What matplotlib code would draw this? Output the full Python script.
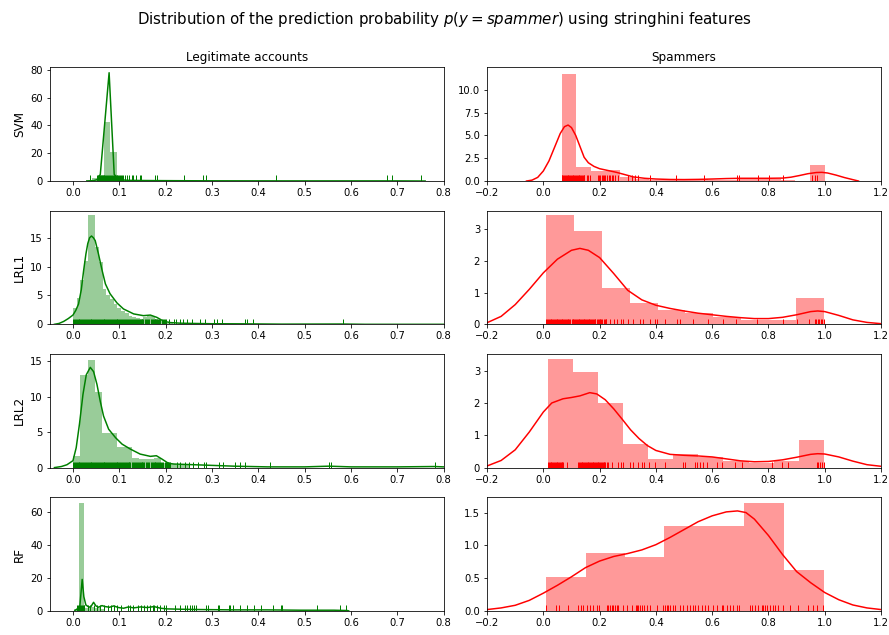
import numpy as np
import matplotlib
matplotlib.use("Agg")
import matplotlib.pyplot as plt

models = ["SVM", "LRL1", "LRL2", "RF"]
col_titles = ["Legitimate accounts", "Spammers"]
suptitle = "Distribution of the prediction probability $p(y = spammer)$ using stringhini features"

# ---- legitimate accounts (green) ----
svm_legit_edges = [0.029, 0.042, 0.055, 0.068, 0.081, 0.094, 0.107, 0.120, 0.133, 0.146]
svm_legit_hist = [0.5, 2.5, 4.5, 42.4, 21.0, 1.8, 0.8, 0.5, 0.3]
svm_legit_kde_x = [0.030, 0.045, 0.052, 0.059, 0.078, 0.089, 0.097, 0.105, 0.120, 0.140, 0.180,
                   0.250, 0.300, 0.450, 0.700, 0.760]
svm_legit_kde_y = [0.0, 0.3, 1.0, 4.8, 78.0, 4.8, 1.5, 0.8, 0.5, 0.4, 0.3, 0.2, 0.15, 0.1, 0.1, 0.0]
svm_legit_rug = [0.036, 0.052, 0.054, 0.056, 0.058, 0.060, 0.062, 0.064, 0.066, 0.068, 0.070,
                 0.072, 0.074, 0.076, 0.078, 0.080, 0.082, 0.084, 0.086, 0.088, 0.090, 0.092,
                 0.094, 0.096, 0.098, 0.100, 0.102, 0.104, 0.106, 0.109, 0.113, 0.117, 0.120,
                 0.127, 0.130, 0.137, 0.144, 0.147, 0.176, 0.181, 0.239, 0.280, 0.286, 0.439,
                 0.678, 0.689, 0.752]

lrl1_legit_edges = [0.000, 0.008, 0.016, 0.024, 0.032, 0.040, 0.048, 0.056, 0.064, 0.072, 0.080,
                    0.088, 0.096, 0.104, 0.112, 0.120, 0.128, 0.136, 0.144, 0.152, 0.160, 0.168,
                    0.176, 0.184, 0.192, 0.200, 0.208, 0.216]
lrl1_legit_hist = [2.8, 4.5, 7.7, 11.0, 18.9, 18.9, 13.4, 10.8, 6.2, 5.0, 4.4, 3.5, 2.8, 2.3,
                   2.0, 1.5, 1.3, 1.1, 1.0, 1.2, 1.5, 1.5, 1.0, 0.6, 0.4, 0.3, 0.2]
lrl1_legit_kde_x = [-0.040, -0.030, -0.020, -0.010, 0.000, 0.006, 0.012, 0.018, 0.023, 0.028,
                    0.032, 0.036, 0.040, 0.044, 0.048, 0.055, 0.063, 0.070, 0.080, 0.095, 0.109,
                    0.131, 0.152, 0.167, 0.181, 0.196, 0.210, 0.230, 0.260, 0.300, 0.370, 0.450,
                    0.580, 0.630, 0.800]
lrl1_legit_kde_y = [0.0, 0.15, 0.5, 1.0, 1.6, 2.4, 3.5, 6.0, 9.3, 12.2, 14.0, 15.0, 15.3, 15.0,
                    14.5, 12.2, 9.3, 7.0, 5.3, 3.7, 2.66, 1.8, 1.5, 1.6, 1.2, 0.52, 0.3, 0.2,
                    0.15, 0.1, 0.08, 0.03, 0.05, 0.0, 0.0]
lrl1_legit_rug = [0.000, 0.002, 0.004, 0.006, 0.008, 0.010, 0.012, 0.014, 0.016, 0.018,
                  0.020, 0.022, 0.024, 0.026, 0.028, 0.030, 0.032, 0.034, 0.036, 0.038,
                  0.040, 0.042, 0.044, 0.046, 0.048, 0.050, 0.052, 0.054, 0.056, 0.058,
                  0.060, 0.062, 0.064, 0.066, 0.068, 0.070, 0.072, 0.074, 0.076, 0.078,
                  0.080, 0.082, 0.084, 0.086, 0.088, 0.090, 0.092, 0.094, 0.096, 0.098,
                  0.100, 0.102, 0.104, 0.106, 0.108, 0.110, 0.112, 0.114, 0.116, 0.118,
                  0.122, 0.124, 0.126, 0.128, 0.130, 0.132, 0.134, 0.136, 0.138, 0.140,
                  0.142, 0.144, 0.146, 0.148, 0.150, 0.152, 0.156, 0.158, 0.160, 0.162,
                  0.164, 0.168, 0.170, 0.172, 0.174, 0.176, 0.178, 0.180, 0.182, 0.184,
                  0.186, 0.188, 0.192, 0.194, 0.196, 0.198, 0.201, 0.207, 0.217, 0.223,
                  0.230, 0.238, 0.246, 0.257, 0.275, 0.284, 0.304, 0.310, 0.322, 0.371,
                  0.376, 0.388, 0.582]

lrl2_legit_edges = [0.000, 0.0158, 0.0317, 0.0475, 0.0634, 0.0792, 0.095, 0.111, 0.127, 0.143,
                    0.158, 0.174, 0.190, 0.206, 0.222, 0.238, 0.253]
lrl2_legit_hist = [1.7, 13.0, 15.2, 10.7, 4.9, 4.9, 2.9, 2.9, 1.4, 1.2, 1.2, 1.3, 0.7, 0.5,
                   0.35, 0.3]
lrl2_legit_kde_x = [-0.040, -0.025, -0.013, 0.000, 0.007, 0.014, 0.0216, 0.0287, 0.0374, 0.0445,
                    0.0518, 0.059, 0.066, 0.077, 0.092, 0.106, 0.124, 0.145, 0.167, 0.180, 0.192,
                    0.206, 0.218, 0.275, 0.347, 0.420, 0.500, 0.552, 0.600, 0.700, 0.780, 0.800]
lrl2_legit_kde_y = [0.0, 0.15, 0.4, 0.97, 2.8, 6.1, 10.3, 13.05, 14.1, 13.5, 11.7, 9.3, 7.25,
                    5.4, 4.2, 3.3, 2.6, 1.9, 1.58, 1.67, 1.2, 0.6, 0.5, 0.37, 0.2, 0.1, 0.1,
                    0.2, 0.1, 0.1, 0.15, 0.1]
lrl2_legit_rug = [0.000, 0.002, 0.004, 0.006, 0.008, 0.010, 0.012, 0.014, 0.016, 0.018,
                  0.020, 0.022, 0.024, 0.026, 0.028, 0.030, 0.032, 0.034, 0.036, 0.038,
                  0.040, 0.042, 0.044, 0.046, 0.048, 0.050, 0.052, 0.054, 0.056, 0.058,
                  0.060, 0.062, 0.064, 0.066, 0.068, 0.070, 0.072, 0.074, 0.076, 0.078,
                  0.080, 0.082, 0.084, 0.086, 0.088, 0.090, 0.092, 0.094, 0.096, 0.098,
                  0.100, 0.102, 0.104, 0.106, 0.108, 0.110, 0.112, 0.114, 0.116, 0.118,
                  0.120, 0.122, 0.124, 0.128, 0.130, 0.132, 0.134, 0.136, 0.138, 0.140,
                  0.142, 0.144, 0.146, 0.148, 0.150, 0.152, 0.154, 0.158, 0.160, 0.162,
                  0.164, 0.168, 0.170, 0.172, 0.174, 0.176, 0.178, 0.180, 0.182, 0.184,
                  0.186, 0.188, 0.190, 0.192, 0.194, 0.198, 0.200, 0.202, 0.204, 0.206,
                  0.208, 0.210, 0.2246, 0.2317, 0.2425, 0.2497, 0.259, 0.2693, 0.2822, 0.288,
                  0.3145, 0.3239, 0.3505, 0.3599, 0.3721, 0.4247, 0.5521, 0.5557, 0.7811]

rf_legit_edges = [0.0026, 0.0136, 0.0245, 0.0355, 0.0465, 0.0575, 0.0685]
rf_legit_hist = [1.0, 65.4, 2.0, 2.5, 1.5, 1.0]
rf_legit_kde_x = [0.0042, 0.0112, 0.0148, 0.0199, 0.0235, 0.0278, 0.0328, 0.0379, 0.0445, 0.0496,
                  0.0553, 0.0625, 0.0697, 0.079, 0.0877, 0.0985, 0.1093, 0.120, 0.131, 0.146,
                  0.160, 0.175, 0.189, 0.203, 0.232, 0.275, 0.347, 0.419, 0.491, 0.563, 0.592,
                  0.595]
rf_legit_kde_y = [0.2, 1.6, 2.6, 19.1, 8.6, 3.6, 2.6, 2.2, 5.2, 3.0, 2.2, 3.2, 2.6, 2.2, 3.0,
                  2.0, 1.6, 2.4, 1.8, 2.4, 2.0, 2.6, 1.6, 1.2, 1.0, 0.8, 0.6, 0.6, 0.4, 0.4,
                  0.2, 0.0]
rf_legit_rug = [0.008, 0.011, 0.0136, 0.015, 0.017, 0.019, 0.021, 0.023, 0.0243, 0.0315, 0.0374,
                0.0445, 0.0517, 0.0589, 0.0675, 0.0747, 0.0827, 0.0877, 0.0949, 0.1043, 0.1187,
                0.1237, 0.1295, 0.1396, 0.1468, 0.154, 0.1597, 0.1669, 0.1727, 0.1756, 0.1813,
                0.1885, 0.1957, 0.2015, 0.221, 0.2318, 0.2412, 0.2462, 0.2534, 0.257, 0.2606,
                0.2664, 0.288, 0.2909, 0.3125, 0.3161, 0.3362, 0.3398, 0.3449, 0.360, 0.3759,
                0.3903, 0.4047, 0.432, 0.4479, 0.450, 0.5256, 0.576, 0.5883]

# ---- spammers (red) ----
svm_spam_edges = [0.065, 0.117, 0.169, 0.221, 0.273, 0.325, 0.377, 0.429, 0.481, 0.532, 0.584,
                  0.636, 0.688, 0.740, 0.792, 0.844, 0.896, 0.948, 1.000]
svm_spam_hist = [11.73, 1.52, 1.15, 1.25, 0.45, 0.2, 0.1, 0.2, 0.1, 0.2, 0.1, 0.1, 0.2, 0.2,
                 0.2, 0.1, 0.0, 1.8]
svm_spam_kde_x = [-0.060, -0.040, -0.020, 0.000, 0.020, 0.040, 0.060, 0.075, 0.088, 0.100,
                  0.115, 0.130, 0.145, 0.160, 0.180, 0.200, 0.230, 0.260, 0.290, 0.320, 0.360,
                  0.400, 0.450, 0.500, 0.550, 0.600, 0.650, 0.700, 0.750, 0.800, 0.850, 0.880,
                  0.910, 0.940, 0.970, 0.990, 1.010, 1.040, 1.070, 1.100, 1.120]
svm_spam_kde_y = [0.0, 0.1, 0.4, 1.1, 2.2, 3.7, 5.2, 5.95, 6.13, 5.85, 5.0, 3.8, 2.6, 2.0, 1.6,
                  1.35, 1.15, 0.95, 0.7, 0.45, 0.3, 0.22, 0.17, 0.16, 0.18, 0.22, 0.27, 0.3,
                  0.3, 0.3, 0.32, 0.42, 0.6, 0.8, 0.93, 0.95, 0.88, 0.65, 0.38, 0.15, 0.0]
svm_spam_rug = [0.065, 0.068, 0.071, 0.074, 0.077, 0.080, 0.083, 0.086, 0.089, 0.092, 0.095,
                0.098, 0.101, 0.104, 0.107, 0.110, 0.113, 0.116, 0.119, 0.122, 0.125, 0.128,
                0.131, 0.134, 0.137, 0.140, 0.143, 0.146, 0.1535, 0.159, 0.1652, 0.195, 0.199,
                0.203, 0.207, 0.211, 0.215, 0.219, 0.226, 0.232, 0.238, 0.243, 0.248, 0.254,
                0.266, 0.3015, 0.3135, 0.325, 0.337, 0.3786, 0.471, 0.5706, 0.689, 0.696,
                0.7637, 0.803, 0.8505, 0.9536, 0.9654, 0.9714]

lrl1_spam_edges = [0.011, 0.110, 0.208, 0.307, 0.406, 0.504, 0.603, 0.701, 0.800, 0.899, 0.997]
lrl1_spam_hist = [3.44, 2.95, 1.14, 0.68, 0.44, 0.36, 0.24, 0.13, 0.13, 0.83]
lrl1_spam_kde_x = [-0.200, -0.150, -0.100, -0.050, 0.000, 0.050, 0.100, 0.130, 0.160, 0.200,
                   0.250, 0.300, 0.350, 0.400, 0.450, 0.500, 0.550, 0.600, 0.650, 0.700, 0.750,
                   0.800, 0.850, 0.900, 0.950, 0.975, 1.000, 1.050, 1.100, 1.150, 1.200]
lrl1_spam_kde_y = [0.05, 0.25, 0.62, 1.1, 1.62, 2.05, 2.33, 2.39, 2.33, 2.1, 1.6, 1.07, 0.77,
                   0.6, 0.5, 0.42, 0.35, 0.3, 0.25, 0.21, 0.18, 0.18, 0.22, 0.3, 0.4, 0.42, 0.4,
                   0.28, 0.14, 0.06, 0.02]
lrl1_spam_rug = [0.011, 0.014, 0.017, 0.020, 0.023, 0.026, 0.029, 0.032, 0.035, 0.038, 0.041,
                 0.044, 0.047, 0.050, 0.053, 0.056, 0.059, 0.062, 0.065, 0.068, 0.071, 0.074,
                 0.077, 0.080, 0.083, 0.086, 0.089, 0.092, 0.095, 0.101, 0.104, 0.107, 0.110,
                 0.113, 0.116, 0.119, 0.122, 0.125, 0.128, 0.131, 0.134, 0.137, 0.140, 0.143,
                 0.146, 0.149, 0.152, 0.155, 0.158, 0.161, 0.164, 0.167, 0.170, 0.173, 0.176,
                 0.179, 0.182, 0.185, 0.191, 0.194, 0.197, 0.200, 0.203, 0.206, 0.209, 0.215,
                 0.218, 0.221, 0.224, 0.2363, 0.2506, 0.2601, 0.2743, 0.2838, 0.3015, 0.3171,
                 0.343, 0.3526, 0.3786, 0.3964, 0.4046, 0.4319, 0.4735, 0.4853, 0.5305, 0.5859,
                 0.6371, 0.6844, 0.7602, 0.8526, 0.9003, 0.9452, 0.965, 0.970, 0.975, 0.980,
                 0.985, 0.990, 0.997]

lrl2_spam_edges = [0.017, 0.106, 0.195, 0.284, 0.373, 0.462, 0.551, 0.640, 0.730, 0.819, 0.908,
                   0.997]
lrl2_spam_hist = [3.37, 2.96, 1.99, 0.74, 0.26, 0.41, 0.34, 0.2, 0.15, 0.2, 0.85]
lrl2_spam_kde_x = [-0.200, -0.150, -0.100, -0.050, 0.000, 0.030, 0.070, 0.100, 0.130, 0.165,
                   0.190, 0.220, 0.250, 0.280, 0.310, 0.340, 0.370, 0.400, 0.450, 0.500, 0.550,
                   0.600, 0.650, 0.700, 0.750, 0.800, 0.850, 0.900, 0.950, 0.975, 1.000, 1.050,
                   1.100, 1.150, 1.200]
lrl2_spam_kde_y = [0.05, 0.22, 0.55, 1.1, 1.72, 2.0, 2.13, 2.17, 2.22, 2.32, 2.28, 2.1, 1.82,
                   1.5, 1.17, 0.9, 0.68, 0.53, 0.41, 0.38, 0.36, 0.33, 0.27, 0.21, 0.18, 0.19,
                   0.24, 0.32, 0.41, 0.43, 0.42, 0.33, 0.2, 0.09, 0.04]
lrl2_spam_rug = [0.017, 0.020, 0.023, 0.026, 0.029, 0.032, 0.035, 0.038, 0.041, 0.044, 0.047,
                 0.050, 0.053, 0.056, 0.059, 0.062, 0.065, 0.068, 0.0705, 0.0847, 0.124, 0.127,
                 0.130, 0.133, 0.136, 0.139, 0.142, 0.145, 0.148, 0.151, 0.154, 0.157, 0.160,
                 0.163, 0.166, 0.169, 0.172, 0.175, 0.178, 0.181, 0.184, 0.187, 0.190, 0.193,
                 0.196, 0.199, 0.202, 0.205, 0.208, 0.211, 0.214, 0.217, 0.220, 0.2245, 0.2305,
                 0.2423, 0.266, 0.2743, 0.2838, 0.3075, 0.317, 0.3371, 0.349, 0.3573, 0.3763,
                 0.3964, 0.432, 0.4972, 0.5031, 0.5387, 0.547, 0.5564, 0.5683, 0.5801, 0.6157,
                 0.6335, 0.681, 0.7046, 0.8113, 0.8469, 0.8706, 0.9713, 0.977, 0.983, 0.990,
                 0.9974]

rf_spam_edges = [0.009, 0.151, 0.290, 0.430, 0.568, 0.713, 0.856, 0.997]
rf_spam_hist = [0.52, 0.888, 0.827, 1.30, 1.30, 1.653, 0.622]
rf_spam_kde_x = [-0.200, -0.150, -0.100, -0.050, 0.000, 0.050, 0.100, 0.150, 0.200, 0.250,
                 0.300, 0.350, 0.400, 0.450, 0.500, 0.550, 0.600, 0.650, 0.690, 0.720, 0.750,
                 0.800, 0.850, 0.900, 0.950, 1.000, 1.050, 1.100, 1.150, 1.200]
rf_spam_kde_y = [0.02, 0.045, 0.085, 0.16, 0.27, 0.39, 0.52, 0.66, 0.76, 0.83, 0.875, 0.93,
                 1.01, 1.12, 1.24, 1.36, 1.45, 1.51, 1.525, 1.5, 1.4, 1.15, 0.86, 0.6, 0.43,
                 0.28, 0.17, 0.09, 0.045, 0.02]
rf_spam_rug = [0.0112, 0.0444, 0.0562, 0.0882, 0.1238, 0.1321, 0.1416, 0.1558, 0.1653, 0.1748,
               0.189, 0.1985, 0.2245, 0.2305, 0.2364, 0.2423, 0.2482, 0.2541, 0.2601, 0.266,
               0.2838, 0.298, 0.3134, 0.3289, 0.333, 0.3372, 0.343, 0.349, 0.3585, 0.3668,
               0.3786, 0.4023, 0.4261, 0.432, 0.4379, 0.444, 0.4498, 0.4592, 0.4675, 0.4853,
               0.4972, 0.509, 0.5209, 0.5327, 0.5387, 0.5505, 0.5624, 0.5742, 0.5861, 0.6039,
               0.6157, 0.6335, 0.6394, 0.6513, 0.6631, 0.675, 0.6869, 0.6964, 0.7343, 0.7402,
               0.7521, 0.764, 0.7758, 0.7817, 0.7877, 0.796, 0.8054, 0.8149, 0.8232, 0.835,
               0.8528, 0.8765, 0.9062, 0.9418, 0.9595, 0.9713, 0.995]

legit = [
    (svm_legit_edges, svm_legit_hist, svm_legit_kde_x, svm_legit_kde_y, svm_legit_rug, 81.9),
    (lrl1_legit_edges, lrl1_legit_hist, lrl1_legit_kde_x, lrl1_legit_kde_y, lrl1_legit_rug, 19.7),
    (lrl2_legit_edges, lrl2_legit_hist, lrl2_legit_kde_x, lrl2_legit_kde_y, lrl2_legit_rug, 16.0),
    (rf_legit_edges, rf_legit_hist, rf_legit_kde_x, rf_legit_kde_y, rf_legit_rug, 69.0),
]
spam = [
    (svm_spam_edges, svm_spam_hist, svm_spam_kde_x, svm_spam_kde_y, svm_spam_rug, 12.45),
    (lrl1_spam_edges, lrl1_spam_hist, lrl1_spam_kde_x, lrl1_spam_kde_y, lrl1_spam_rug, 3.58),
    (lrl2_spam_edges, lrl2_spam_hist, lrl2_spam_kde_x, lrl2_spam_kde_y, lrl2_spam_rug, 3.52),
    (rf_spam_edges, rf_spam_hist, rf_spam_kde_x, rf_spam_kde_y, rf_spam_rug, 1.735),
]


def distplot(ax, edges, heights, kde_x, kde_y, rug, color):
    edges = np.asarray(edges)
    ax.bar(edges[:-1], heights, width=np.diff(edges), align="edge",
           color=color, alpha=0.4, linewidth=0)
    ax.plot(kde_x, kde_y, color=color, lw=1.5)
    ax.vlines(rug, 0, 0.05, color=color, lw=1, transform=ax.get_xaxis_transform())


fig, axes = plt.subplots(4, 2, figsize=(889 / 72, 635 / 72), dpi=72)
fig.subplots_adjust(left=0.056, right=0.991, top=0.894, bottom=0.038, wspace=0.11, hspace=0.26)

for i in range(4):
    ax = axes[i, 0]
    e, h, kx, ky, r, ytop = legit[i]
    distplot(ax, e, h, kx, ky, r, "green")
    ax.set_xlim(-0.05, 0.8)
    ax.set_ylim(0, ytop)
    ax.set_ylabel(models[i], fontsize=12)

    ax = axes[i, 1]
    e, h, kx, ky, r, ytop = spam[i]
    distplot(ax, e, h, kx, ky, r, "red")
    ax.set_xlim(-0.2, 1.2)
    ax.set_ylim(0, ytop)

axes[0, 0].set_title(col_titles[0], fontsize=12)
axes[0, 1].set_title(col_titles[1], fontsize=12)
fig.suptitle(suptitle, fontsize=15, y=0.985)

fig.savefig("out.png", dpi=72)
